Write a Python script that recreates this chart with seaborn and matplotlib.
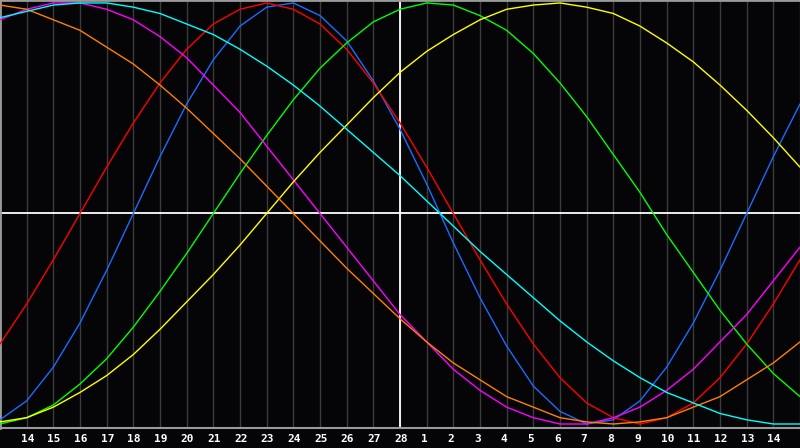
import matplotlib
matplotlib.use("Agg")
import matplotlib.pyplot as plt
import seaborn as sns
import pandas as pd

# day index 0..30 across the chart
days = list(range(31))
day_labels = ["14", "15", "16", "17", "18", "19", "20", "21", "22", "23", "24", "25", "26", "27", "28",
              "1", "2", "3", "4", "5", "6", "7", "8", "9", "10", "11", "12", "13", "14"]
today_index = 15

physical = [-98, -89, -73, -52, -27, 0, 27, 52, 73, 89, 98, 100, 94, 82, 63, 40, 14, -14, -40, -63,
            -82, -94, -100, -98, -89, -73, -52, -27, 0, 27, 52]
emotional = [-62, -43, -22, 0, 22, 43, 62, 78, 90, 97, 100, 97, 90, 78, 62, 43, 22, 0, -22, -43,
             -62, -78, -90, -97, -100, -97, -90, -78, -62, -43, -22]
intellectual = [-100, -97, -91, -81, -69, -54, -37, -19, 0, 19, 37, 54, 69, 81, 91, 97, 100, 99, 94, 87,
                76, 62, 46, 28, 10, -10, -28, -46, -62, -76, -87]
intuitive = [92, 97, 100, 100, 97, 92, 84, 74, 61, 48, 32, 16, 0, -16, -32, -48, -61, -74, -84, -92,
             -97, -100, -100, -97, -92, -84, -74, -61, -48, -32, -16]
aesthetic = [-99, -97, -92, -85, -77, -67, -55, -42, -29, -15, 0, 15, 29, 42, 55, 67, 77, 85, 92, 97,
             99, 100, 98, 95, 89, 81, 72, 61, 49, 36, 22]
awareness = [99, 97, 92, 87, 79, 71, 61, 50, 38, 26, 13, 0, -13, -26, -38, -50, -61, -71, -79, -87,
             -92, -97, -99, -100, -99, -97, -92, -87, -79, -71, -61]
spiritual = [93, 96, 99, 100, 100, 98, 95, 90, 85, 78, 70, 61, 51, 40, 29, 18, 6, -6, -18, -29,
             -40, -51, -61, -70, -78, -85, -90, -95, -98, -100, -100]

series = {
    "physical": physical,
    "emotional": emotional,
    "intellectual": intellectual,
    "intuitive": intuitive,
    "aesthetic": aesthetic,
    "awareness": awareness,
    "spiritual": spiritual,
}
colors = {
    "physical": "#1a6cff",
    "emotional": "#ff0000",
    "intellectual": "#00ff00",
    "intuitive": "#ff00ff",
    "aesthetic": "#ffff00",
    "awareness": "#ff8000",
    "spiritual": "#00ffff",
}

rows = []
for name, vals in series.items():
    for d, v in zip(days, vals):
        rows.append({"day": d, "value": v, "cycle": name})
df = pd.DataFrame(rows)

bg = "#050508"
sns.set_theme(style="dark")
fig = plt.figure(figsize=(8, 4.48), dpi=100, facecolor=bg)
ax = fig.add_axes([0, 20 / 448, 1, 428 / 448])
ax.set_facecolor(bg)

# vertical day grid
for d in days:
    ax.axvline(d, color="#3c3c3c", lw=1.0, zorder=0)

sns.lineplot(data=df, x="day", y="value", hue="cycle", palette=colors,
             hue_order=list(series.keys()), lw=1.0, legend=False, ax=ax,
             zorder=3)

ax.axhline(0, color="white", lw=1.3, zorder=2)
ax.axvline(today_index, color="white", lw=1.3, zorder=2)

ax.set_xlim(0, 30)
ax.set_ylim(-101.9, 101.4)
ax.set_xticks([])
ax.set_yticks([])
ax.set_xlabel("")
ax.set_ylabel("")
ax.grid(False)
for side in ["left", "top", "bottom"]:
    ax.spines[side].set_visible(True)
    ax.spines[side].set_color("#9a9a9a")
    ax.spines[side].set_linewidth(1.5)
ax.spines["left"].set_linewidth(2.0)
ax.spines["top"].set_linewidth(2.0)
ax.spines["right"].set_visible(False)

for i, lab in enumerate(day_labels, start=1):
    ax.text(i - 0.225, -0.026, lab, transform=ax.get_xaxis_transform(),
            ha="left", va="center", color="white", fontsize=8,
            fontweight="bold", family="DejaVu Sans Mono", clip_on=False)

fig.savefig("out.png", dpi=100, facecolor=bg)
